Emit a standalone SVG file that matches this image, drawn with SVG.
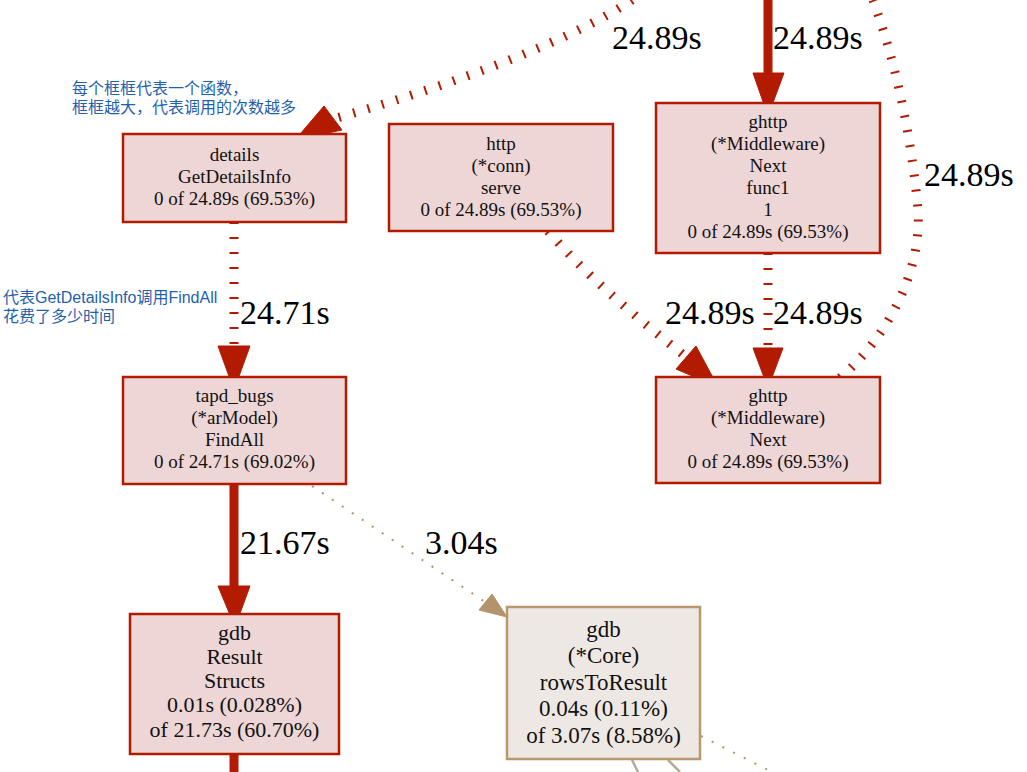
<svg xmlns="http://www.w3.org/2000/svg" width="1027" height="772" viewBox="0 0 1027 772">
<style>
  .node rect.hot { fill: #edd6d5; stroke: #b21b00; stroke-width: 2.5; }
  .node rect.cool { fill: #ede8e3; stroke: #b8996e; stroke-width: 2.5; }
  .node text { font-family: "Liberation Serif", "Times New Roman", serif; font-size: 19px; fill: #111; text-anchor: middle; }
  .node text.big { font-size: 22px; }
  .node text.big2 { font-size: 23px; }
  .thick { fill: none; stroke: #b21b00; stroke-width: 9; }
  .dotted { fill: none; stroke: #b21b00; stroke-width: 9; stroke-dasharray: 2 13; }
  .thin { fill: none; stroke: #b2936c; stroke-width: 2; stroke-dasharray: 2 10; }
  .gray { fill: none; stroke: #b5a999; stroke-width: 2.5; }
  .ahead { fill: #b21b00; stroke: #b21b00; stroke-width: 1; }
  .tan { fill: #b2936c; stroke: #b2936c; stroke-width: 1; }
  .elabel { font-family: "Liberation Serif", "Times New Roman", serif; font-size: 34px; fill: #000; }
  .note { font-family: "Liberation Sans", "Noto Sans CJK SC", sans-serif; font-size: 16px; fill: #1f5fad; }
</style>
<rect width="1027" height="772" fill="#ffffff"/>

<g id="edges">
  <path class="dotted" d="M 632 0 C 580 35 470 80 333 119"/>
  <polygon class="ahead" points="324,106 342,130 295,140"/>
  <path class="thick" d="M 768 0 L 768 74"/>
  <polygon class="ahead" points="753,73 784,73 768,116"/>
  <path class="dotted" d="M 234 222 L 234 346"/>
  <polygon class="ahead" points="218,346 250,346 234,390"/>
  <path class="dotted" d="M 548 231 C 590 280 640 320 686 357"/>
  <polygon class="ahead" points="676,369 696,346 718,387"/>
  <path class="dotted" d="M 768 253 L 768 348"/>
  <polygon class="ahead" points="753,348 783,348 768,388"/>
  <path class="dotted" d="M 840 378 C 895 330 925 260 917 200 C 910 130 895 60 873 0"/>
  <path class="thick" d="M 234 484 L 234 588"/>
  <polygon class="ahead" points="218,586 250,586 235,627"/>
  <path class="thick" d="M 234 755 L 234 772"/>
  <path class="thin" d="M 312 486 L 485 602"/>
  <polygon class="tan" points="479,610 492,594 507,617"/>
  <path class="thin" d="M 701 736 L 772 772"/>
  <path class="gray" d="M 632 760 L 638 772"/>
  <path class="gray" d="M 668 760 L 680 772"/>

  <g font-family="'Liberation Serif', serif">
    <text class="elabel" x="612" y="49">24.89s</text>
    <text class="elabel" x="773" y="49">24.89s</text>
    <text class="elabel" x="924" y="186">24.89s</text>
    <text class="elabel" x="240" y="324">24.71s</text>
    <text class="elabel" x="665" y="324">24.89s</text>
    <text class="elabel" x="773" y="324">24.89s</text>
    <text class="elabel" x="240" y="554">21.67s</text>
    <text class="elabel" x="425" y="554">3.04s</text>
  </g>
</g>

<g id="node-details" class="node">
  <rect class="hot" x="123" y="134" width="223" height="88"/>
  <text x="234.5" y="161">details</text>
  <text x="234.5" y="183">GetDetailsInfo</text>
  <text x="234.5" y="205">0 of 24.89s (69.53%)</text>
</g>

<g id="node-http-serve" class="node">
  <rect class="hot" x="389" y="124" width="224" height="107"/>
  <text x="501" y="150">http</text>
  <text x="501" y="172">(*conn)</text>
  <text x="501" y="194">serve</text>
  <text x="501" y="216">0 of 24.89s (69.53%)</text>
</g>

<g id="node-ghttp-func1" class="node">
  <rect class="hot" x="656" y="103" width="224" height="150"/>
  <text x="768" y="128">ghttp</text>
  <text x="768" y="150">(*Middleware)</text>
  <text x="768" y="172">Next</text>
  <text x="768" y="194">func1</text>
  <text x="768" y="216">1</text>
  <text x="768" y="238">0 of 24.89s (69.53%)</text>
</g>

<g id="node-ghttp-next" class="node">
  <rect class="hot" x="656" y="377" width="224" height="106"/>
  <text x="768" y="402">ghttp</text>
  <text x="768" y="424">(*Middleware)</text>
  <text x="768" y="446">Next</text>
  <text x="768" y="468">0 of 24.89s (69.53%)</text>
</g>

<g id="node-tapd-findall" class="node">
  <rect class="hot" x="123" y="377" width="223" height="107"/>
  <text x="234.5" y="402">tapd_bugs</text>
  <text x="234.5" y="424">(*arModel)</text>
  <text x="234.5" y="446">FindAll</text>
  <text x="234.5" y="468">0 of 24.71s (69.02%)</text>
</g>

<g id="node-gdb-structs" class="node">
  <rect class="hot" x="130" y="614" width="209" height="140"/>
  <text class="big" x="234.5" y="640">gdb</text>
  <text class="big" x="234.5" y="664">Result</text>
  <text class="big" x="234.5" y="688">Structs</text>
  <text class="big" x="234.5" y="712">0.01s (0.028%)</text>
  <text class="big" x="234.5" y="737">of 21.73s (60.70%)</text>
</g>

<g id="node-gdb-rows" class="node">
  <rect class="cool" x="507" y="607" width="193" height="152"/>
  <text class="big2" x="603.5" y="637">gdb</text>
  <text class="big2" x="603.5" y="663">(*Core)</text>
  <text class="big2" x="603.5" y="690">rowsToResult</text>
  <text class="big2" x="603.5" y="716">0.04s (0.11%)</text>
  <text class="big2" x="603.5" y="743">of 3.07s (8.58%)</text>
</g>

<g id="notes">
  <text class="note" x="72" y="94">每个框框代表一个函数，</text>
  <text class="note" x="72" y="113">框框越大，代表调用的次数越多</text>
  <text class="note" x="3" y="303">代表GetDetailsInfo调用FindAll</text>
  <text class="note" x="3" y="322">花费了多少时间</text>
</g>
</svg>
